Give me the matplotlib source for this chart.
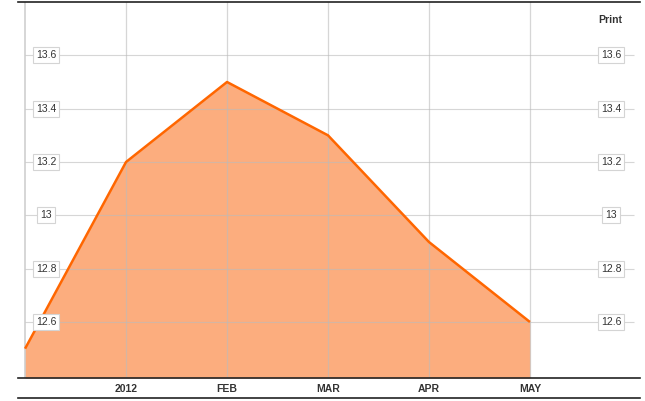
import matplotlib.pyplot as plt
from matplotlib.lines import Line2D

plt.rcParams['font.family'] = ['Liberation Sans', 'DejaVu Sans']

# data
months = ['DEC', '2012', 'FEB', 'MAR', 'APR', 'MAY']
values = [12.5, 13.2, 13.5, 13.3, 12.9, 12.6]
xtick_labels = ['2012', 'FEB', 'MAR', 'APR', 'MAY']
yticks = [12.6, 12.8, 13.0, 13.2, 13.4, 13.6]
ytick_labels = ['12.6', '12.8', '13', '13.2', '13.4', '13.6']

W, H = 645, 401
L, R = 18, 640
fig = plt.figure(figsize=(W / 100, H / 100), dpi=100)
ax = fig.add_axes([L / W, 1 - 378 / H, (R - L) / W, (378 - 2) / H])

x = list(range(len(values)))
ax.fill_between(x, values, 12.39, color='#fcad7e', lw=0, zorder=1)
ax.plot(x, values, color='#ff6600', lw=1.8, zorder=3, solid_capstyle='butt')

ax.set_xlim(-0.07, 6.09)
ax.set_ylim(12.39, 13.80)

# grid
ax.hlines(yticks, 0, 6.03, color='#bbbbbb', lw=0.8, alpha=0.6, zorder=2)
for xv in x:
    ax.axvline(xv, color='#bbbbbb', lw=1.4 if xv == 0 else 0.9, alpha=0.6, zorder=2)

ax.set_xticks(x[1:])
ax.set_xticklabels(xtick_labels, fontsize=7.5, fontweight='bold', color='#333333')
ax.tick_params(axis='x', length=0, pad=4)
ax.set_yticks([])

for s in ['left', 'right']:
    ax.spines[s].set_visible(False)
for s in ['top', 'bottom']:
    ax.spines[s].set_color('#222222')
    ax.spines[s].set_linewidth(1.2)

# boxed y labels on both sides
box = dict(boxstyle='square,pad=0.3', fc='white', ec='#d4d4d4', lw=0.8)
for yv, lab in zip(yticks, ytick_labels):
    for px in (46, 611):
        ax.text((px - L) / (R - L), yv, lab, transform=ax.get_yaxis_transform(),
                fontsize=7.5, color='#333333', ha='center', va='center',
                bbox=box, zorder=5)

ax.text((610 - L) / (R - L), 1 - 18 / 376, 'Print', transform=ax.transAxes,
        fontsize=7.5, fontweight='bold', color='#333333', ha='center', va='center')

# lower rule
fig.add_artist(Line2D([L / W, R / W], [1 - 398 / H, 1 - 398 / H],
                      color='#222222', lw=1.2))

fig.savefig('out.png', dpi=100)
